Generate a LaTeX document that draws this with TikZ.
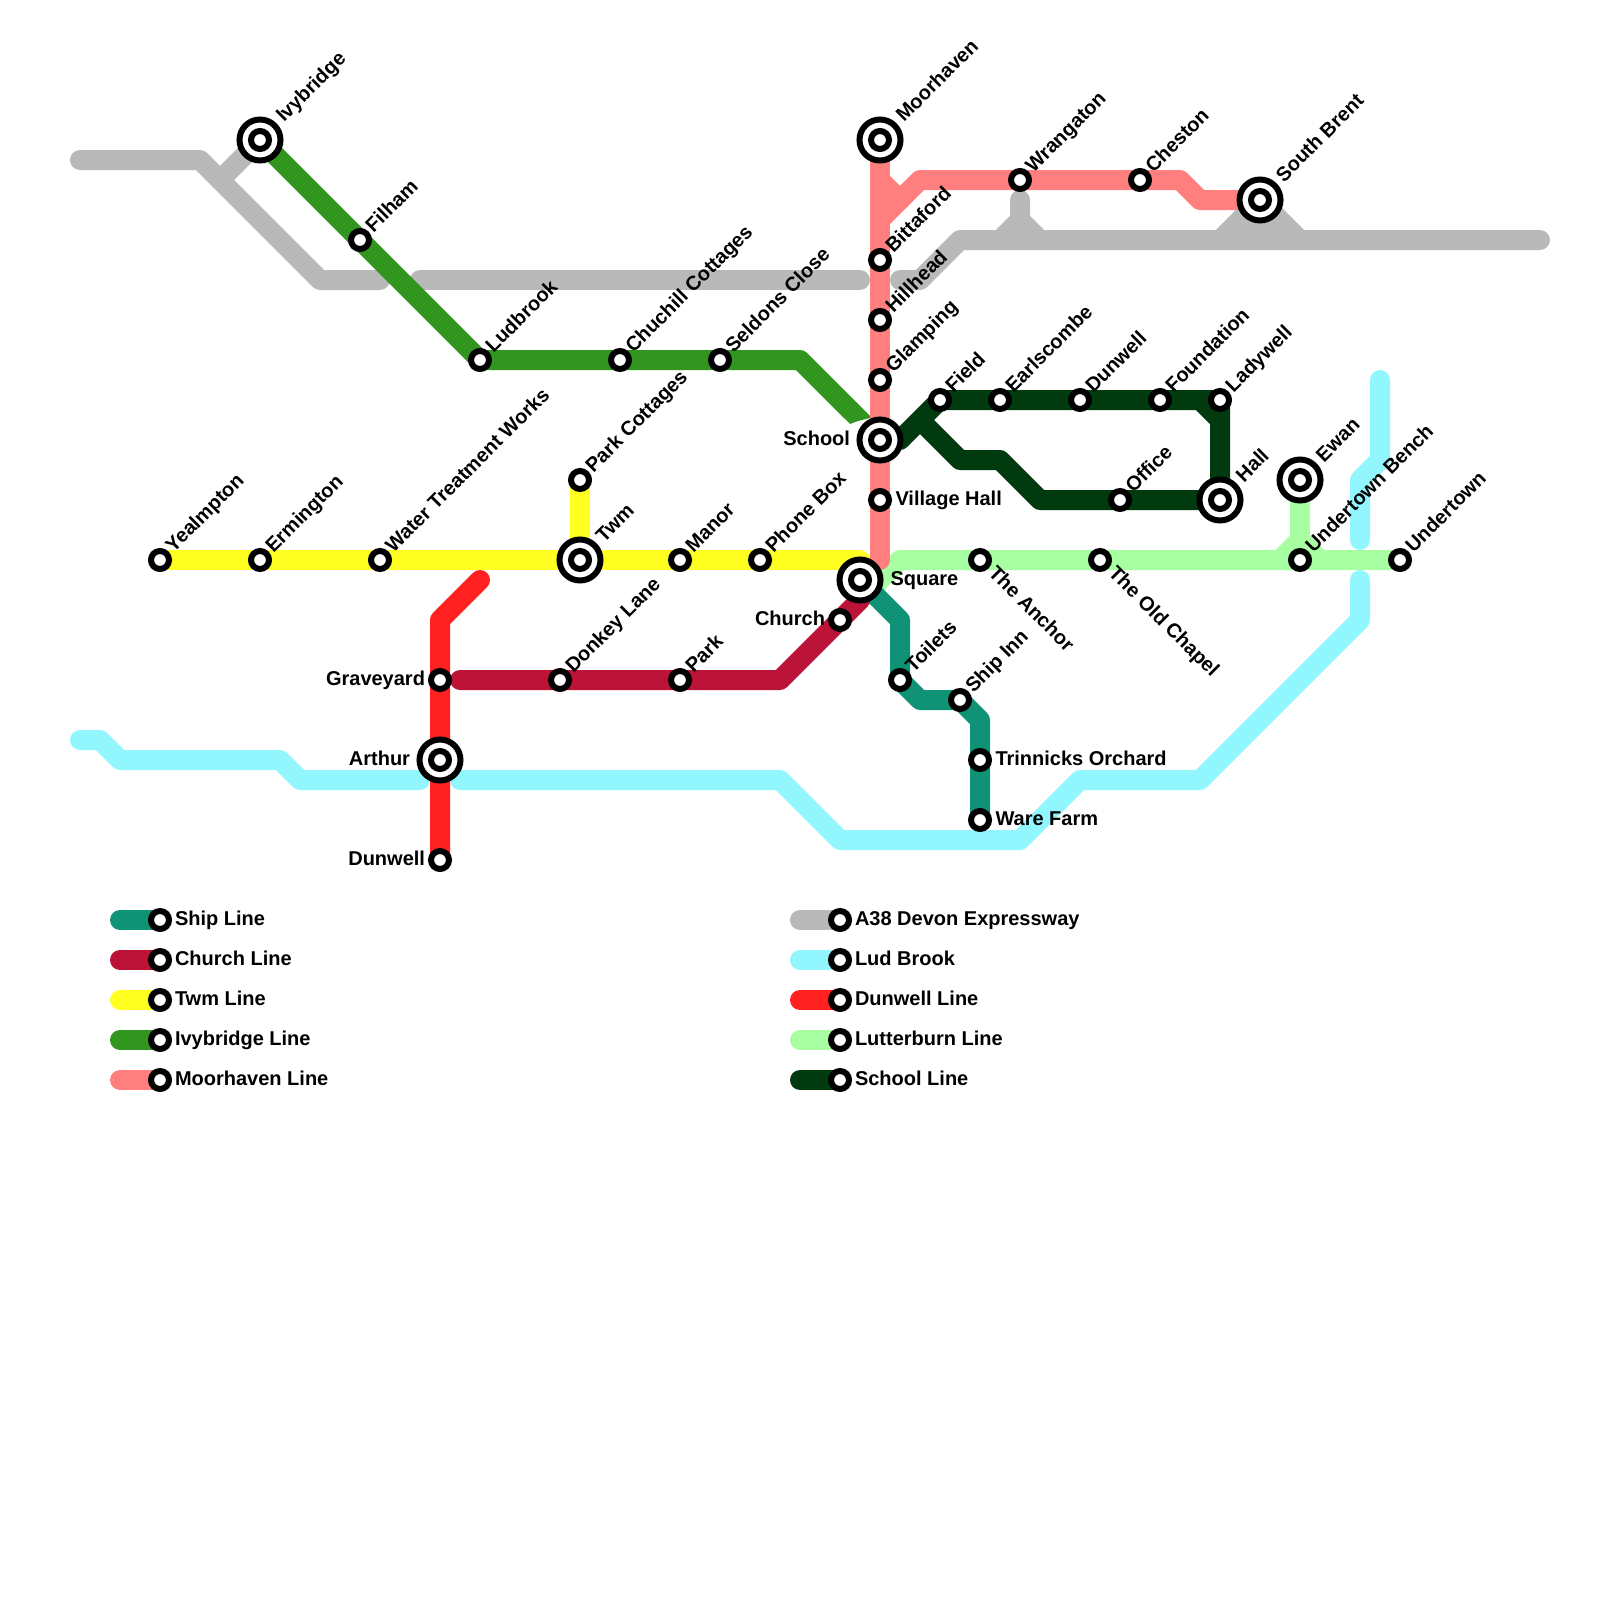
\documentclass[tikz,border=0pt]{standalone}
\usepackage{fontspec}
\setmainfont{Liberation Sans}
\definecolor{cship}{HTML}{0F9275}
\definecolor{cchurch}{HTML}{BB1238}
\definecolor{ctwm}{HTML}{FFFF22}
\definecolor{civy}{HTML}{319520}
\definecolor{cmoor}{HTML}{FF7F7F}
\definecolor{cgrey}{HTML}{B9B9B9}
\definecolor{clud}{HTML}{92F6FF}
\definecolor{cdun}{HTML}{FF2020}
\definecolor{clut}{HTML}{A7FFA2}
\definecolor{cschool}{HTML}{013A0F}
\pgfdeclarelayer{lines}
\pgfsetlayers{lines,main}
\tikzset{
  stn/.style={circle,draw=black,fill=white,line width=6pt,inner sep=0pt,minimum size=18pt,outer sep=0pt},
  bigstn/.style={circle,draw=black,fill=white,line width=6pt,inner sep=0pt,minimum size=41pt,outer sep=0pt},
  txt/.style={inner sep=0pt,outer sep=0pt,font=\bfseries\fontsize{20}{24}\selectfont,text=black},
  lu/.style={txt,rotate=45,anchor=base west},
  ld/.style={txt,rotate=-45,anchor=base west},
  lr/.style={txt,anchor=base west},
  ll/.style={txt,anchor=base east},
  metro/.style={line width=20pt,line cap=round,line join=round},
  way/.style={inner sep=0pt,outer sep=0pt}
}
\newcommand{\smallst}[3]{\node[stn] (#1) at (#2) {};\node[lu] (t-#1) at ([shift={(13.5,-6.5)}]#1.center) {#3};}
\newcommand{\bigst}[3]{\node[bigstn] (o-#1) at (#2) {};\node[stn] (#1) at (#2) {};\node[lu] (t-#1) at ([shift={(24,-17)}]#1.center) {#3};}
\newcommand{\downst}[3]{\node[stn] (#1) at (#2) {};\node[ld] (t-#1) at ([shift={(7.5,14)}]#1.center) {#3};}
\newcommand{\rightst}[3]{\node[stn] (#1) at (#2) {};\node[lr] (t-#1) at ([shift={(15.5,5.5)}]#1.center) {#3};}
\newcommand{\leftst}[3]{\node[stn] (#1) at (#2) {};\node[ll] (t-#1) at ([shift={(-15,5.5)}]#1.center) {#3};}
\newcommand{\legendst}[5]{\coordinate (a-#1) at (#2,#3);\node[stn] (#1) at (#2+40,#3) {};\node[lr] (t-#1) at ([shift={(15,5.5)}]#1.center) {#5};
  \begin{pgfonlayer}{lines}\draw[metro,draw=#4] (a-#1) -- (#1.center);\end{pgfonlayer}}
\begin{document}
\begin{tikzpicture}[x=1pt,y=-1pt]
\useasboundingbox (0,0) rectangle (1600,1600);
% stations
\bigst{ivy}{260,140}{Ivybridge}
\smallst{filham}{360,240}{Filham}
\smallst{ludbrook}{480,360}{Ludbrook}
\smallst{chuchill}{620,360}{Chuchill Cottages}
\smallst{seldons}{720,360}{Seldons Close}
\smallst{yealm}{160,560}{Yealmpton}
\smallst{erm}{260,560}{Ermington}
\smallst{water}{380,560}{Water Treatment Works}
\smallst{parkc}{580,480}{Park Cottages}
\bigst{twm}{580,560}{Twm}
\smallst{manor}{680,560}{Manor}
\smallst{phone}{760,560}{Phone Box}
\node[bigstn] (o-square) at (860,580) {};
\node[stn] (square) at (860,580) {};
\node[lr] (t-square) at ([shift={(30.5,5.5)}]square.center) {Square};
\leftst{church}{840,620}{Church}
\bigst{moor}{880,140}{Moorhaven}
\smallst{bitta}{880,260}{Bittaford}
\smallst{hill}{880,320}{Hillhead}
\smallst{glamp}{880,380}{Glamping}
\node[bigstn] (o-school) at (880,440) {};
\node[stn] (school) at (880,440) {};
\node[ll] (t-school) at ([shift={(-30,5.5)}]school.center) {School};
\rightst{village}{880,500}{Village Hall}
\smallst{wran}{1020,180}{Wrangaton}
\smallst{chest}{1140,180}{Cheston}
\bigst{brent}{1260,200}{South Brent}
\smallst{field}{940,400}{Field}
\smallst{earls}{1000,400}{Earlscombe}
\smallst{dunw}{1080,400}{Dunwell}
\smallst{found}{1160,400}{Foundation}
\smallst{lady}{1220,400}{Ladywell}
\bigst{hall}{1220,500}{Hall}
\smallst{office}{1120,500}{Office}
\bigst{ewan}{1300,480}{Ewan}
\smallst{bench}{1300,560}{Undertown Bench}
\smallst{under}{1400,560}{Undertown}
\downst{anchor}{980,560}{The Anchor}
\downst{chapel}{1100,560}{The Old Chapel}
\leftst{grave}{440,680}{Graveyard}
\node[bigstn] (o-arthur) at (440,760) {};
\node[stn] (arthur) at (440,760) {};
\node[ll] (t-arthur) at ([shift={(-30,5.5)}]arthur.center) {Arthur};
\leftst{dunwelld}{440,860}{Dunwell}
\smallst{donkey}{560,680}{Donkey Lane}
\smallst{park}{680,680}{Park}
\smallst{toilets}{900,680}{Toilets}
\smallst{shipinn}{960,700}{Ship Inn}
\rightst{trin}{980,760}{Trinnicks Orchard}
\rightst{ware}{980,820}{Ware Farm}
% waypoints and line ends
\foreach \n/\p in {
  g1/{80,160},g2/{200,160},g3/{320,280},g4/{380,280},g5/{420,280},g6/{860,280},g7/{900,280},g8/{920,280},g9/{960,240},g10/{1540,240},
  g11/{220,180},g12/{1020,220},g13/{1000,240},g14/{1040,240},g15/{1020,200},g16/{1220,240},g17/{1300,240},
  v1/{800,360},v2/{850,410},v3/{843,417},v4/{850,424},v5/{858,421},v6/{870,418},v7/{870,416},v8/{857,403},
  m1/{880,560},m2/{880,220},m3/{920,180},m4/{1180,180},m5/{1200,200},m6/{880,180},m7/{900,200},
  s1/{900,440},s2/{920,420},s3/{960,460},s4/{1000,460},s5/{1040,500},s6/{1200,400},s7/{1220,420},
  y1/{860,560},
  r1/{480,580},r2/{440,620},
  c1/{460,680},c2/{780,680},c3/{860,600},
  t1/{900,620},t2/{920,700},t3/{980,720},
  f1/{860,600},f2/{900,560},f3/{1280,560},f4/{1300,540},f5/{1320,560},
  b1/{80,740},b2/{100,740},b3/{120,760},b4/{280,760},b5/{300,780},b6/{420,780},b7/{460,780},b8/{780,780},b9/{840,840},b10/{1020,840},b11/{1080,780},b12/{1200,780},b13/{1360,620},b14/{1360,580},b15/{1360,540},b16/{1360,480},b17/{1380,460},b18/{1380,380}}
  {\coordinate (\n) at (\p);}
\begin{pgfonlayer}{lines}
  % A38
  \draw[metro,draw=cgrey] (g1) -- (g2) -- (g3) -- (g4);
  \draw[metro,draw=cgrey] (g5) -- (g6);
  \draw[metro,draw=cgrey] (g7) -- (g8) -- (g9) -- (g10);
  \draw[metro,draw=cgrey] (g11) -- (ivy.center);
  \draw[metro,draw=cgrey] (g13) -- (g12) -- (g15);
  \draw[metro,draw=cgrey] (g14) -- (g12);
  \fill[cgrey] (g16) -- (brent.center) -- (g17) -- cycle;
  \draw[metro,draw=cgrey] (g16) -- (brent.center) -- (g17);
  % Lud Brook
  \draw[metro,draw=clud] (b1) -- (b2) -- (b3) -- (b4) -- (b5) -- (b6);
  \draw[metro,draw=clud] (b7) -- (b8) -- (b9) -- (b10) -- (b11) -- (b12) -- (b13) -- (b14);
  \draw[metro,draw=clud] (b15) -- (b16) -- (b17) -- (b18);
  % Lutterburn
  \draw[metro,draw=clut] (f1) -- (f2) -- (anchor.center) -- (chapel.center) -- (bench.center) -- (under.center);
  \draw[metro,draw=clut] (f3) -- (f4) -- (ewan.center);
  \draw[metro,draw=clut] (f5) -- (f4) -- (f3);
  % Twm
  \draw[metro,draw=ctwm] (yealm.center) -- (erm.center) -- (water.center) -- (twm.center) -- (manor.center) -- (phone.center) -- (y1);
  \draw[metro,draw=ctwm] (parkc.center) -- (twm.center);
  % Ivybridge
  \draw[metro,draw=civy] (ivy.center) -- (filham.center) -- (ludbrook.center) -- (chuchill.center) -- (seldons.center) -- (v1) -- (v2);
  \fill[civy] (v3) -- (v4) -- (v5) -- (v6) -- (v7) -- (v8) -- cycle;
  % Ship
  \draw[metro,draw=cship] (square.center) -- (t1) -- (toilets.center) -- (t2) -- (shipinn.center) -- (t3) -- (trin.center) -- (ware.center);
  % Church
  \draw[metro,draw=cchurch] (c1) -- (donkey.center) -- (park.center) -- (c2) -- (church.center) -- (c3);
  % Dunwell
  \draw[metro,draw=cdun] (r1) -- (r2) -- (grave.center) -- (arthur.center) -- (dunwelld.center);
  % Moorhaven
  \draw[metro,draw=cmoor] (moor.center) -- (bitta.center) -- (hill.center) -- (glamp.center) -- (school.center) -- (village.center) -- (m1);
  \draw[metro,draw=cmoor] (m2) -- (m3) -- (wran.center) -- (chest.center) -- (m4) -- (m5) -- (brent.center);
  \draw[metro,draw=cmoor] (m6) -- (m7);
  % School
  \draw[metro,draw=cschool] (s1) -- (field.center) -- (earls.center) -- (dunw.center) -- (found.center) -- (lady.center) -- (hall.center) -- (office.center) -- (s5) -- (s4) -- (s3) -- (s2);
  \draw[metro,draw=cschool] (s6) -- (s7);
\end{pgfonlayer}
% legend
\legendst{lg1}{120}{920}{cship}{Ship Line}
\legendst{lg2}{120}{960}{cchurch}{Church Line}
\legendst{lg3}{120}{1000}{ctwm}{Twm Line}
\legendst{lg4}{120}{1040}{civy}{Ivybridge Line}
\legendst{lg5}{120}{1080}{cmoor}{Moorhaven Line}
\legendst{lg6}{800}{920}{cgrey}{A38 Devon Expressway}
\legendst{lg7}{800}{960}{clud}{Lud Brook}
\legendst{lg8}{800}{1000}{cdun}{Dunwell Line}
\legendst{lg9}{800}{1040}{clut}{Lutterburn Line}
\legendst{lg10}{800}{1080}{cschool}{School Line}
\end{tikzpicture}
\end{document}
